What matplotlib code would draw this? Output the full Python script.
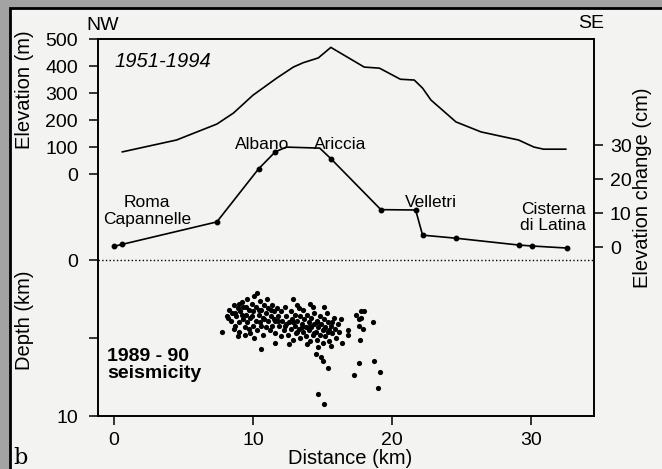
import matplotlib
matplotlib.use("Agg")
import matplotlib.pyplot as plt
from matplotlib.patches import Rectangle

plt.rcParams['font.family'] = ['Liberation Sans', 'DejaVu Sans']

# elevation profile (m)
prof_dist = [0.6, 4.5, 7.4, 8.6, 10.0, 11.7, 12.9, 13.6, 14.7, 15.6, 18.0, 19.1,
             20.6, 21.6, 22.2, 22.8, 24.6, 26.4, 28.1, 29.1, 30.2, 30.9, 32.5]
prof_elev = [83, 127, 186, 227, 293, 356, 397, 413, 431, 470, 397, 393,
             352, 349, 319, 275, 194, 157, 138, 127, 101, 93, 93]

# levelling line, elevation change 1951-1994 (cm)
lev_dist = [0.0, 0.6, 7.4, 10.4, 11.6, 12.4, 14.8, 15.6, 19.2, 21.7, 22.2, 24.6, 29.1, 30.1, 32.6]
lev_chg = [0.2, 0.8, 7.4, 23.0, 28.0, 29.4, 29.1, 26.0, 11.0, 10.9, 3.5, 2.6, 0.6, 0.3, -0.3]
lev_marks = [0, 1, 2, 3, 4, 7, 8, 9, 10, 11, 12, 13, 14]

# 1989-90 seismicity (distance km, depth km)
eq_dist = [7.8, 8.1, 8.3, 8.4, 8.5, 8.6, 8.7, 8.8, 8.9, 9.0, 9.0, 9.1, 9.2, 9.3, 9.3, 9.4,
           9.5, 9.6, 9.6, 9.7, 9.8, 9.8, 9.9, 10.0, 10.0, 10.1, 10.2, 10.2, 10.3, 10.4,
           10.5, 10.5, 10.6, 10.7, 10.7, 10.8, 10.9, 10.9, 11.0, 11.1, 11.1, 11.2, 11.3,
           11.4, 11.4, 11.5, 11.6, 11.6, 11.7, 11.8, 11.9, 12.0, 12.0, 9.4, 8.6, 10.6,
           11.6, 10.3, 9.0, 8.9, 10.1,
           8.2, 8.7, 9.2, 9.5, 9.9, 10.4, 10.8, 11.3, 11.8, 9.7, 10.6, 11.5,
           12.1, 12.2, 12.3, 12.3, 12.4, 12.5, 12.6, 12.7, 12.7, 12.8, 12.9, 13.0, 13.0,
           13.1, 13.2, 13.2, 13.3, 13.4, 13.4, 13.5, 13.6, 13.6, 13.7, 13.8, 13.8, 13.9,
           14.0, 14.0, 14.1, 14.1, 14.2, 14.2, 14.3, 14.4, 14.4, 14.5, 14.6, 14.6, 14.7,
           14.8, 14.8, 14.9, 15.0, 15.0, 15.1, 15.2, 15.2, 15.3, 15.4, 15.4, 15.5, 15.6,
           15.7, 15.8, 15.9, 16.0, 16.1, 16.2, 15.1, 14.3, 16.3, 16.4, 13.9, 14.7, 15.6,
           12.6, 13.3, 12.9,
           12.4, 12.9, 13.5, 14.1, 14.6, 15.1, 15.7, 13.2, 14.4, 15.5,
           16.8, 16.8, 17.4, 17.6, 17.6, 17.8, 17.8, 17.9, 18.0, 18.6, 17.7,
           14.5, 14.9, 15.0, 15.4, 14.7, 15.1, 17.6, 18.7, 17.3, 19.1, 19.0]
eq_depth = [4.6, 3.6, 3.2, 3.9, 3.4, 2.9, 4.2, 3.6, 3.1, 4.0, 4.6, 3.3, 2.7, 3.8, 3.0, 4.3,
            3.5, 2.5, 4.0, 3.2, 4.7, 3.7, 2.8, 3.3, 4.2, 2.3, 3.9, 3.0, 4.5, 3.5,
            2.6, 4.0, 3.2, 3.7, 4.8, 2.9, 3.4, 4.3, 2.5, 3.9, 3.1, 4.5, 3.6,
            2.9, 4.2, 3.3, 3.9, 4.7, 3.1, 3.6, 4.2, 3.3, 4.9, 4.8, 4.4, 5.7,
            5.3, 2.1, 2.8, 4.9, 5.0,
            3.7, 3.4, 3.5, 3.0, 3.6, 3.2, 3.8, 3.2, 3.9, 4.4, 4.2, 3.8,
            3.9, 4.5, 3.0, 4.2, 3.6, 4.8, 4.0, 3.3, 4.4, 3.8, 5.1, 3.5, 4.2,
            4.7, 2.9, 3.9, 4.4, 3.6, 5.0, 4.1, 3.2, 4.6, 3.8, 4.3, 4.9, 3.5,
            4.0, 4.5, 2.8, 5.2, 3.7, 4.3, 4.8, 3.4, 4.1, 4.6, 3.9, 5.1, 4.3,
            3.6, 4.8, 4.1, 4.5, 5.3, 3.8, 4.3, 4.9, 3.4, 4.0, 4.6, 5.2, 4.2,
            4.7, 3.7, 4.4, 5.0, 4.1, 4.6, 3.0, 3.0, 3.8, 5.3, 5.4, 5.6, 5.5,
            5.4, 3.1, 2.5,
            4.1, 4.0, 4.3, 4.2, 4.0, 4.4, 4.0, 4.6, 4.7, 4.5,
            4.5, 4.8, 3.5, 3.8, 4.2, 3.3, 3.7, 4.4, 3.3, 4.0, 5.1,
            6.0, 6.2, 6.5, 6.9, 8.6, 9.2, 6.6, 6.5, 7.4, 7.2, 8.2]

elev_ticks = [0, 100, 200, 300, 400, 500]
depth_ticks = [0, 5, 10]
depth_ticklabels = ['0', '', '10']
chg_ticks = [0, 10, 20, 30]
dist_ticks = [0, 10, 20, 30]

fig = plt.figure(figsize=(6.62, 4.69), dpi=100)
fig.patch.set_facecolor('#a3a3a3')
page = Rectangle((10 / 662, -0.05), 1.1, 1.05 - 8 / 469,
                 transform=fig.transFigure, facecolor='#f3f3f1',
                 edgecolor='black', linewidth=2, zorder=-5)
fig.patches.append(page)

pos = [98 / 662, 53 / 469, 496 / 662, 377 / 469]
tick_kw = dict(direction='out', length=6.5, width=1.1, labelsize=14, pad=5)

# depth axis (main frame)
ax = fig.add_axes(pos)
ax.patch.set_visible(False)
ax.set_xlim(-1.15, 34.53)
ax.set_ylim(10, -14.17)
ax.set_xticks(dist_ticks)
ax.set_yticks(depth_ticks)
ax.set_yticklabels(depth_ticklabels)
ax.tick_params(**tick_kw)
ax.tick_params(axis='y', pad=8)
for s in ax.spines.values():
    s.set_linewidth(1.4)
ax.axhline(0, color='black', ls=':', lw=1)
ax.scatter(eq_dist, eq_depth, s=14, color='black', linewidths=0)

# elevation axis
ax_e = fig.add_axes(pos, sharex=ax)
ax_e.patch.set_visible(False)
for s in ax_e.spines.values():
    s.set_visible(False)
ax_e.set_ylim(-895, 501)
ax_e.set_yticks(elev_ticks)
ax_e.tick_params(axis='y', **tick_kw)
ax_e.tick_params(axis='y', pad=8)
ax_e.tick_params(axis='x', bottom=False, labelbottom=False)
ax_e.plot(prof_dist, prof_elev, color='black', lw=1.2)
ax_e.text(0.05, 416, '1951-1994', style='italic', fontsize=14.5, va='center', ha='left')

# elevation change axis
ax_c = fig.add_axes(pos, sharex=ax)
ax_c.patch.set_visible(False)
for s in ax_c.spines.values():
    s.set_visible(False)
ax_c.yaxis.tick_right()
ax_c.set_ylim(-49.7, 61.2)
ax_c.set_yticks(chg_ticks)
ax_c.tick_params(axis='y', **tick_kw)
ax_c.tick_params(axis='x', bottom=False, labelbottom=False)
ax_c.plot(lev_dist, lev_chg, color='black', lw=1.2, marker='o', markersize=3.2,
          markevery=lev_marks)

lab = dict(fontsize=12.5, va='center')
ax_c.text(2.4, 10.6, 'Roma\nCapannelle', ha='center', linespacing=1.1, **lab)
ax_c.text(10.65, 30.3, 'Albano', ha='center', **lab)
ax_c.text(16.3, 30.3, 'Ariccia', ha='center', **lab)
ax_c.text(22.8, 13.2, 'Velletri', ha='center', **lab)
ax_c.text(33.95, 8.8, 'Cisterna\ndi Latina', ha='right', linespacing=1.1, **lab)

ax.text(-0.5, 6.7, '1989 - 90\nseismicity', fontsize=14, fontweight='bold',
        ha='left', va='center', linespacing=1.0)

fig.text(25 / 662, 1 - 90 / 469, 'Elevation (m)', rotation=90, fontsize=14.5,
         ha='center', va='center')
fig.text(25 / 662, 1 - 320 / 469, 'Depth (km)', rotation=90, fontsize=14.5,
         ha='center', va='center')
fig.text(643 / 662, 1 - 188 / 469, 'Elevation change (cm)', rotation=90, fontsize=14.5,
         ha='center', va='center')
fig.text(350 / 662, 1 - 458 / 469, 'Distance (km)', fontsize=14.5, ha='center', va='center')
fig.text(86 / 662, 1 - 25 / 469, 'NW', fontsize=14, ha='left', va='center')
fig.text(578 / 662, 1 - 23 / 469, 'SE', fontsize=14, ha='left', va='center')
fig.text(13 / 662, 1 - 458 / 469, 'b', fontsize=16, family='DejaVu Serif',
         ha='left', va='center')

fig.savefig('out.png', dpi=100, facecolor=fig.get_facecolor())
